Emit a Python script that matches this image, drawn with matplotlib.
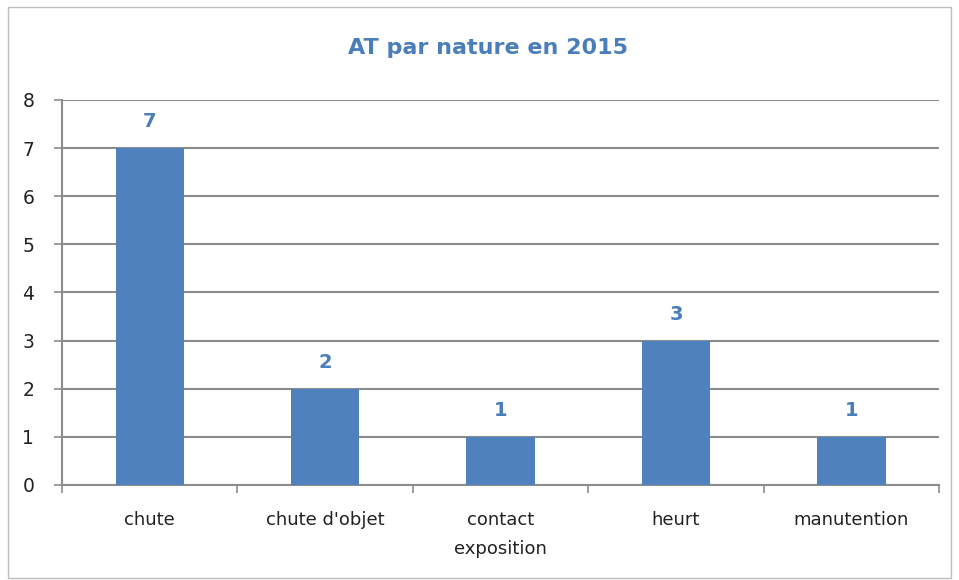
import matplotlib.pyplot as plt
from matplotlib.patches import Rectangle

plt.rcParams.update({
    'font.family': ['DejaVu Sans'],
    'font.size': 13,
})

categories = ['chute', "chute d'objet", 'contact\nexposition', 'heurt', 'manutention']
values = [7, 2, 1, 3, 1]
yticks = [0, 1, 2, 3, 4, 5, 6, 7, 8]

bar_color = '#4F81BD'
text_color = '#4A7EBB'
grid_color = '#8C8C8C'

fig = plt.figure(figsize=(9.59, 5.80), dpi=100)
ax = fig.add_axes([0.0647, 0.1638, 0.9145, 0.6638])

# outer frame of the chart area
fig.patches.append(Rectangle((0.008, 0.004), 0.984, 0.984, transform=fig.transFigure,
                             fill=False, edgecolor='#BFBFBF', lw=1.0))

x = list(range(len(categories)))
bars = ax.bar(x, values, width=0.39, color=bar_color, zorder=3)

for xi, v in zip(x, values):
    ax.annotate(str(v), (xi, v), xytext=(0, 12), textcoords='offset points',
                ha='center', va='bottom', color=text_color, fontsize=14, fontweight='bold')

ax.set_xlim(-0.5, len(categories) - 0.5)
ax.set_ylim(0, 8)
ax.set_yticks(yticks)
ax.yaxis.grid(True, color=grid_color, lw=1.5, zorder=0)
ax.set_axisbelow(True)

# category labels centred, tick marks on the boundaries between categories
ax.set_xticks(x)
ax.set_xticklabels(categories, linespacing=1.75)
ax.tick_params(axis='x', length=0, pad=19, labelsize=13, colors='#222222')
ax.set_xticks([i + 0.5 for i in [-1] + x], minor=True)
ax.tick_params(axis='x', which='minor', length=6, width=1.2, color=grid_color, direction='out')
ax.tick_params(axis='y', length=6, width=1.2, color=grid_color, pad=14, labelsize=13.5,
               labelcolor='#222222')

for side in ['top', 'right']:
    ax.spines[side].set_visible(False)
for side in ['left', 'bottom']:
    ax.spines[side].set_color(grid_color)
    ax.spines[side].set_linewidth(1.5)

fig.text(0.509, 0.918, 'AT par nature en 2015', ha='center', va='center',
         fontsize=16, fontweight='bold', color=text_color)

fig.savefig('out.png', dpi=100)
